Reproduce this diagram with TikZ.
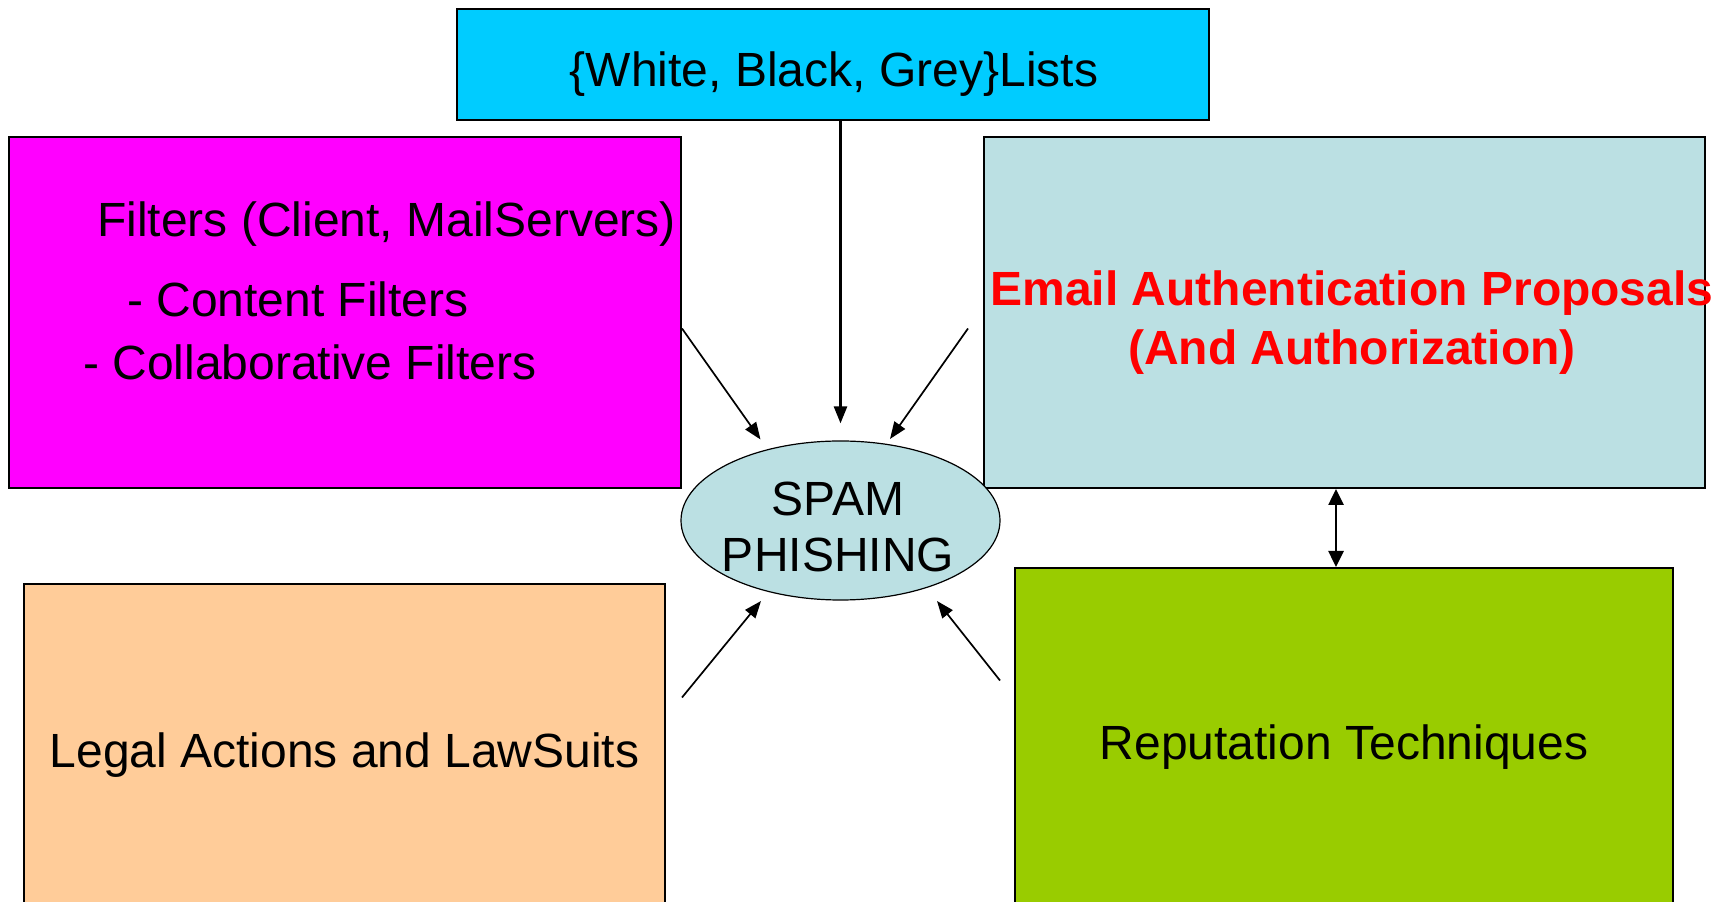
\documentclass[tikz,border=0pt]{standalone}
\usepackage{fontspec}
\setmainfont{Liberation Sans}
\usetikzlibrary{arrows.meta,calc,shapes.geometric}
\definecolor{listcyan}{RGB}{0,204,255}
\definecolor{filtmagenta}{RGB}{255,0,255}
\definecolor{authblue}{RGB}{187,224,227}
\definecolor{legalpeach}{RGB}{255,204,153}
\definecolor{repgreen}{RGB}{153,204,0}

\begin{document}
\begin{tikzpicture}[x=1pt, y=1pt,
    every node/.style={font=\fontsize{48}{58}\selectfont, inner sep=0pt},
    box/.style={draw, line width=2pt, rectangle},
    feed/.style={line width=1.7pt, -{Triangle[length=17pt,width=13pt]}}]
  \useasboundingbox (0,0) rectangle (1727,902);
  \clip (0,0) rectangle (1727,902);
  % boxes round the centre
  \node[box, fill=listcyan, minimum width=752, minimum height=111] (lists) at (833,837.5) {};
  \node (listsT) at (834,828) {\{White, Black, Grey\}Lists};
  \node[box, fill=filtmagenta, minimum width=672, minimum height=351] (filt) at (345,589.5) {};
  \node[anchor=base west] (filtA) at (97,665) {Filters (Client, MailServers)};
  \node[anchor=base west] (filtB) at (127,585) {- Content Filters};
  \node[anchor=base west] (filtC) at (83,522) {- Collaborative Filters};
  \node[box, fill=authblue, minimum width=721, minimum height=351] (auth) at (1344.5,589.5) {};
  \node[align=center, text=red, font=\fontsize{48}{59}\selectfont\bfseries] (authT) at (1352,579)
    {Email Authentication Proposals\\(And Authorization)};
  \node[box, fill=legalpeach, minimum width=641, minimum height=342] (legal) at (344.5,146.5) {Legal Actions and LawSuits};
  \node[box, fill=repgreen, minimum width=658, minimum height=359] (rep) at (1344,154.5) {Reputation Techniques};
  \node[ellipse, draw, line width=1.2pt, fill=authblue, minimum width=319, minimum height=159] (core) at (840.5,381.5) {};
  \node[align=center, font=\fontsize{48}{56}\selectfont] (coreT) at (838,375.5) {SPAM\\PHISHING};
  % arrows into the centre
  \draw[feed, line width=2.6pt] (lists.south -| core.north) -- ([yshift=17pt]core.north);
  \draw[feed] ([yshift=-16pt]filt.east) -- ($(core.center)+(-80,81)$);
  \draw[feed] ($(auth.west)+(-15,-16)$) -- ($(core.center)+(49.5,81.5)$);
  \draw[feed] ($(legal.east)+(16,58)$) -- ($(core.center)+(-79.5,-80.5)$);
  \draw[feed] ($(rep.west)+(-14,67)$) -- ($(core.center)+(96.5,-80.5)$);
  \draw[line width=2.6pt, {Triangle[length=16pt,width=15pt]}-{Triangle[length=16pt,width=15pt]}]
    ([xshift=-8.5pt]auth.south) -- ([xshift=-8.5pt]auth.south |- rep.north);
\end{tikzpicture}
\end{document}
